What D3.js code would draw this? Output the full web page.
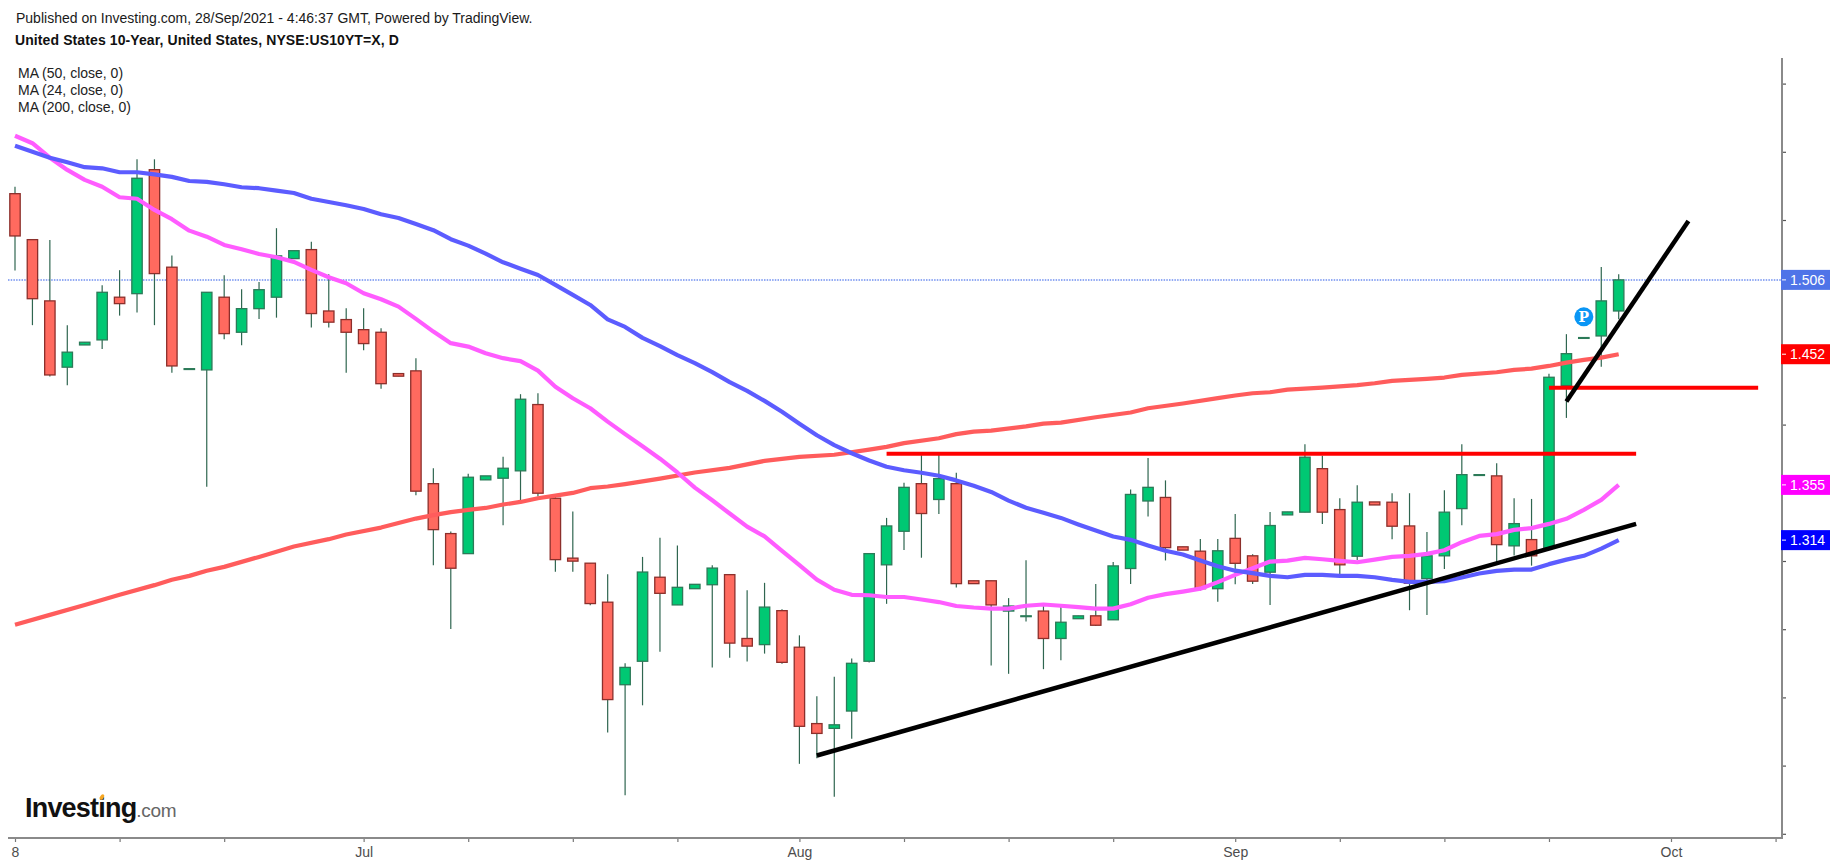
<!DOCTYPE html>
<html>
<head>
<meta charset="utf-8">
<script src="https://cdnjs.cloudflare.com/ajax/libs/d3/7.8.5/d3.min.js"></script>
<style>
    html, body { margin: 0; padding: 0; background: #fff; }
    svg { display: block; }
    text { font-family: "Liberation Sans", Arial, sans-serif; }
</style>
</head>
<body>
<div id="chart"></div>
<script>
// daily candles, 8 Jun to 27 Sep 2021, includes the Sunday sessions
let opens = [1.5693,1.5356,1.4907,1.4421,1.4584,1.4621,1.4934,1.4960,1.5869,1.5154,
    1.4410,1.4401,1.4934,1.4677,1.4850,1.4934,1.5217,1.5283,1.4833,1.4770,
    1.4696,1.4677,1.4374,1.4394,1.3567,1.3201,1.3054,1.3595,1.3607,1.3661,
    1.4147,1.3460,1.3021,1.2984,1.2698,1.2093,1.2265,1.2881,1.2678,1.2797,
    1.2826,1.2900,1.2432,1.2387,1.2636,1.2368,1.1808,1.1773,1.1900,1.2265,
    1.2972,1.3218,1.3567,1.3451,1.3567,1.2855,1.2855,1.2633,1.2598,1.2633,
    1.2432,1.2577,1.2598,1.2569,1.2945,1.3440,1.3466,1.3104,1.3072,1.2797,
    1.3166,1.3038,1.2918,1.3338,1.3358,1.3677,1.3377,1.3035,1.3433,1.3431,
    1.3257,1.2871,1.3038,1.3384,1.3633,1.3624,1.3111,1.3157,1.3094,1.4286,
    1.4638,1.4650,1.4833];
let closes = [1.5383,1.4923,1.4364,1.4531,1.4604,1.4970,1.4887,1.5806,1.5107,1.4430,
    1.4410,1.4970,1.4667,1.4850,1.4989,1.5237,1.5275,1.4814,1.4751,1.4677,
    1.4594,1.4300,1.4355,1.3512,1.3230,1.2947,1.3614,1.3624,1.3680,1.4186,
    1.3497,1.3010,1.2999,1.2688,1.1984,1.2220,1.2919,1.2763,1.2807,1.2829,
    1.2948,1.2398,1.2376,1.2662,1.2257,1.1788,1.1736,1.1799,1.2250,1.3054,
    1.3257,1.3540,1.3348,1.3604,1.2834,1.2834,1.2678,1.2670,1.2598,1.2432,
    1.2551,1.2598,1.2529,1.2964,1.3488,1.3540,1.3098,1.3080,1.2797,1.3075,
    1.2983,1.2852,1.3260,1.3360,1.3761,1.3358,1.2972,1.3431,1.3411,1.3255,
    1.2837,1.3038,1.3358,1.3633,1.3633,1.3120,1.3274,1.3038,1.4347,1.4520,
    1.4638,1.4907,1.5061];
let highs = [1.5744,1.5356,1.5354,1.4729,1.4604,1.5022,1.5132,1.5945,1.5945,1.5239,
    1.4410,1.4973,1.5095,1.4992,1.5046,1.5440,1.5275,1.5341,1.5102,1.4853,
    1.4853,1.4707,1.4374,1.4487,1.3680,1.3216,1.3639,1.3624,1.3765,1.4223,
    1.4230,1.3490,1.3362,1.2984,1.2903,1.2250,1.3030,1.3170,1.3114,1.2829,
    1.2969,1.2900,1.2786,1.2840,1.2646,1.2455,1.2008,1.2151,1.2286,1.3054,
    1.3316,1.3573,1.3776,1.3793,1.3647,1.2855,1.2855,1.2728,1.3006,1.2670,
    1.2670,1.2598,1.2832,1.2993,1.3525,1.3755,1.3591,1.3104,1.3162,1.3162,
    1.3345,1.3050,1.3360,1.3360,1.3856,1.3771,1.3460,1.3556,1.3433,1.3497,
    1.3497,1.3213,1.3519,1.3856,1.3633,1.3717,1.3460,1.3455,1.4372,1.4663,
    1.4638,1.5156,1.5102];
let lows = [1.5129,1.4729,1.4352,1.4289,1.4584,1.4555,1.4799,1.4821,1.4729,1.4381,
    1.4410,1.3545,1.4626,1.4582,1.4775,1.4784,1.5217,1.4711,1.4711,1.4381,
    1.4545,1.4262,1.4355,1.3482,1.2969,1.2502,1.3054,1.3595,1.3263,1.3436,
    1.3472,1.2922,1.2922,1.2676,1.1742,1.1283,1.1942,1.2334,1.2678,1.2797,
    1.2220,1.2291,1.2263,1.2321,1.2247,1.1513,1.1553,1.1272,1.1696,1.2255,
    1.2686,1.3080,1.3024,1.3345,1.2805,1.2834,1.2233,1.2173,1.2556,1.2207,
    1.2273,1.2577,1.2524,1.2569,1.2832,1.3326,1.3004,1.3080,1.2784,1.2702,
    1.2830,1.2832,1.2678,1.3338,1.3358,1.3272,1.2881,1.3008,1.3411,1.3160,
    1.2639,1.2605,1.2942,1.3263,1.3633,1.2984,1.3040,1.2966,1.3094,1.4049,
    1.4638,1.4425,1.4772];

let ma50 = [1.6045,1.6001,1.5957,1.5923,1.5887,1.5879,1.5850,1.5850,1.5835,1.5816,
    1.5786,1.5779,1.5762,1.5740,1.5733,1.5715,1.5698,1.5656,1.5632,1.5608,
    1.5581,1.5542,1.5515,1.5471,1.5425,1.5359,1.5312,1.5253,1.5190,1.5143,
    1.5097,1.5024,1.4951,1.4877,1.4772,1.4716,1.4636,1.4575,1.4509,1.4451,
    1.4385,1.4311,1.4247,1.4174,1.4094,1.4007,1.3922,1.3850,1.3790,1.3737,
    1.3691,1.3665,1.3647,1.3625,1.3591,1.3551,1.3506,1.3443,1.3390,1.3353,
    1.3316,1.3268,1.3223,1.3180,1.3155,1.3114,1.3075,1.3048,1.3004,1.2961,
    1.2929,1.2911,1.2891,1.2881,1.2898,1.2898,1.2891,1.2891,1.2881,1.2862,
    1.2847,1.2847,1.2852,1.2879,1.2908,1.2928,1.2937,1.2937,1.2977,1.3010,
    1.3038,1.3091,1.3153];
let ma24 = [1.6118,1.6063,1.5957,1.5867,1.5794,1.5744,1.5667,1.5656,1.5574,1.5506,
    1.5422,1.5378,1.5317,1.5286,1.5251,1.5227,1.5193,1.5134,1.5080,1.5036,
    1.4963,1.4919,1.4865,1.4775,1.4682,1.4597,1.4572,1.4523,1.4487,1.4465,
    1.4396,1.4278,1.4193,1.4120,1.4022,1.3930,1.3842,1.3750,1.3649,1.3538,
    1.3445,1.3348,1.3252,1.3180,1.3075,1.2969,1.2863,1.2789,1.2752,1.2749,
    1.2736,1.2736,1.2718,1.2699,1.2670,1.2659,1.2651,1.2651,1.2672,1.2681,
    1.2672,1.2662,1.2651,1.2651,1.2683,1.2731,1.2757,1.2776,1.2797,1.2845,
    1.2898,1.2947,1.2996,1.3003,1.3023,1.3013,1.3001,1.2991,1.3010,1.3030,
    1.3038,1.3052,1.3079,1.3138,1.3184,1.3197,1.3228,1.3241,1.3272,1.3309,
    1.3375,1.3448,1.3558];
let ma200Bars = [0,2,4,6,8,9,10,11,12,14,16,18,19,21,22,23,24,25,26,27,28,29,30,31,32,33,34,35,
    37,39,41,43,45,47,49,50,51,53,54,55,56,58,59,60,62,64,65,67,69,70,71,72,73,75,77,78,79,81,82,83,85,86,87,88,89,90,91,92];
let ma200 = [1.2532,1.2605,1.2678,1.2752,1.2823,1.2862,1.2891,1.2928,1.2957,1.3030,1.3106,1.3160,1.3194,1.3245,1.3279,1.3311,1.3336,1.3358,1.3375,1.3389,1.3414,1.3433,1.3460,1.3479,1.3499,1.3534,1.3546,1.3564,
    1.3604,1.3649,1.3683,1.3734,1.3763,1.3779,1.3816,1.3837,1.3864,1.3900,1.3930,1.3948,1.3956,1.3987,1.4007,1.4015,1.4054,1.4089,1.4120,1.4155,1.4194,1.4213,1.4230,1.4237,1.4256,1.4271,1.4289,1.4303,1.4320,1.4335,1.4345,1.4364,1.4384,1.4401,1.4410,1.4430,1.4454,1.4474,1.4491,1.4516];

// hand drawn lines on the chart: [bar, value, bar, value]
let supportLine = [46, 1.1574, 93, 1.3272];
let steepLine = [89, 1.4169, 96, 1.5493];
let levelLines = [[50, 93, 1.3786], [88, 100, 1.4271]];

let monthBars = [0, 6, 12, 20, 26, 32, 38, 45, 51, 57, 63, 70, 76, 82, 88, 95, 101];
let monthLabels = {0: "8", 20: "Jul", 45: "Aug", 70: "Sep", 95: "Oct"};
let priceTicks = [1.10, 1.15, 1.20, 1.25, 1.30, 1.35, 1.40, 1.45, 1.50, 1.55, 1.60, 1.65];
let priceTags = [
    {text: "1.506", value: 1.5061, color: "#4f74e8"},
    {text: "1.452", value: 1.4516, color: "#ff0000"},
    {text: "1.355", value: 1.3558, color: "#ff00ff"},
    {text: "1.314", value: 1.3153, color: "#0000ff"}
];
let legendLines = ["MA (50, close, 0)", "MA (24, close, 0)", "MA (200, close, 0)"];

let width = 1837, height = 866;
let svg = d3.select("#chart").append("svg")
    .attr("width", width)
    .attr("height", height);

let x = d3.scaleLinear().domain([0, 92]).range([15, 1618.7]);
let y = d3.scaleLinear().domain([1.10, 1.65]).range([833.8, 83.6]);
let axisX = 1782, axisY = 838;

// axes
let bottom = svg.append("g")
    .attr("transform", "translate(0," + axisY + ")")
    .call(d3.axisBottom(x)
        .tickValues(monthBars)
        .tickSize(4)
        .tickPadding(5)
        .tickFormat(function (d) { return monthLabels[d] || ""; }));
bottom.select(".domain").remove();
bottom.selectAll("line").attr("stroke", "#777").attr("stroke-width", 1.2);
bottom.selectAll("text")
    .attr("fill", "#4d4d4d")
    .attr("font-size", 14)
    .attr("font-family", "Liberation Sans");
svg.append("line")
    .attr("x1", 8).attr("x2", axisX + 1)
    .attr("y1", axisY).attr("y2", axisY)
    .attr("stroke", "#8a8a8a").attr("stroke-width", 2);

let right = svg.append("g")
    .attr("transform", "translate(" + axisX + ",0)")
    .call(d3.axisRight(y)
        .tickValues(priceTicks)
        .tickSize(4)
        .tickFormat(""));
right.select(".domain").remove();
right.selectAll("line").attr("stroke", "#555").attr("stroke-width", 1.2);
svg.append("line")
    .attr("x1", axisX).attr("x2", axisX)
    .attr("y1", 58).attr("y2", axisY + 1)
    .attr("stroke", "#8a8a8a").attr("stroke-width", 2);

// last price line
svg.append("line")
    .attr("x1", 8).attr("x2", axisX)
    .attr("y1", y(1.5061)).attr("y2", y(1.5061))
    .attr("stroke", "#6f8ff0")
    .attr("stroke-width", 1.5)
    .attr("stroke-dasharray", "1.5,1.2");

// candles
let bars = d3.range(opens.length);
let up = function (i) { return closes[i] >= opens[i]; };
let candle = svg.append("g").selectAll("g")
    .data(bars)
    .enter().append("g");

candle.append("line")
    .attr("x1", function (i) { return x(i); })
    .attr("x2", function (i) { return x(i); })
    .attr("y1", function (i) { return y(highs[i]); })
    .attr("y2", function (i) { return y(lows[i]); })
    .attr("stroke", "#2f6650")
    .attr("stroke-width", 1.2);

// a flat candle still has to show up as a dash
candle.append("rect")
    .attr("x", function (i) { return x(i) - 5.2; })
    .attr("width", 10.4)
    .attr("y", function (i) { return y(Math.max(opens[i], closes[i])); })
    .attr("height", function (i) { return Math.max(Math.abs(y(opens[i]) - y(closes[i])), 0.8); })
    .attr("fill", function (i) { return up(i) ? "#00c873" : "#ff6a5f"; })
    .attr("stroke", function (i) { return up(i) ? "#2c7a58" : "#8c2f2b"; })
    .attr("stroke-width", 1.3);

// moving averages
let line = d3.line()
    .x(function (d) { return x(d[0]); })
    .y(function (d) { return y(d[1]); });

let maLines = [
    {points: ma200Bars.map(function (b, i) { return [b, ma200[i]]; }), color: "#ff5c5c"},
    {points: ma24.map(function (v, i) { return [i, v]; }), color: "#ff5cff"},
    {points: ma50.map(function (v, i) { return [i, v]; }), color: "#5c5cff"}
];
svg.append("g").selectAll("path")
    .data(maLines)
    .enter().append("path")
    .attr("d", function (d) { return line(d.points); })
    .attr("fill", "none")
    .attr("stroke", function (d) { return d.color; })
    .attr("stroke-width", 4.2)
    .attr("stroke-linejoin", "round");

// trend lines
svg.append("g").selectAll("line")
    .data(levelLines)
    .enter().append("line")
    .attr("x1", function (d) { return x(d[0]); })
    .attr("x2", function (d) { return x(d[1]); })
    .attr("y1", function (d) { return y(d[2]); })
    .attr("y2", function (d) { return y(d[2]); })
    .attr("stroke", "#ff0000")
    .attr("stroke-width", 4);

svg.append("g").selectAll("line")
    .data([supportLine, steepLine])
    .enter().append("line")
    .attr("x1", function (d) { return x(d[0]); })
    .attr("y1", function (d) { return y(d[1]); })
    .attr("x2", function (d) { return x(d[2]); })
    .attr("y2", function (d) { return y(d[3]); })
    .attr("stroke", "#000")
    .attr("stroke-width", 4.5);

// P marker
let marker = svg.append("g")
    .attr("transform", "translate(" + x(90) + "," + y(1.479) + ")");
marker.append("circle").attr("r", 9.5).attr("fill", "#0a96f5");
marker.append("text")
    .attr("text-anchor", "middle")
    .attr("dy", "0.36em")
    .attr("font-size", 14)
    .attr("font-weight", "bold")
    .style("font-family", "'DejaVu Serif'")
    .attr("fill", "#fff")
    .text("P");

// price tags
let tag = svg.append("g").selectAll("g")
    .data(priceTags)
    .enter().append("g")
    .attr("transform", function (d) { return "translate(" + axisX + "," + y(d.value) + ")"; });
tag.append("rect")
    .attr("x", -1).attr("y", -10)
    .attr("width", 49).attr("height", 20)
    .attr("fill", function (d) { return d.color; });
tag.append("line")
    .attr("x1", 0).attr("x2", 4)
    .attr("stroke", "#fff").attr("stroke-width", 1);
tag.append("text")
    .attr("x", 8)
    .attr("dy", "0.36em")
    .attr("font-size", 14)
    .attr("fill", "#fff")
    .text(function (d) { return d.text; });

// header text
svg.append("text")
    .attr("x", 16).attr("y", 22.5)
    .attr("font-size", 14)
    .attr("fill", "#1a1a1a")
    .text("Published on Investing.com, 28/Sep/2021 - 4:46:37 GMT, Powered by TradingView.");
svg.append("text")
    .attr("x", 15).attr("y", 45)
    .attr("font-size", 14)
    .attr("font-weight", "bold")
    .attr("letter-spacing", 0.1)
    .attr("fill", "#111")
    .text("United States 10-Year, United States, NYSE:US10YT=X, D");
svg.append("g").selectAll("text")
    .data(legendLines)
    .enter().append("text")
    .attr("x", 18)
    .attr("y", function (d, i) { return 78 + i * 17; })
    .attr("font-size", 14)
    .attr("fill", "#222")
    .text(function (d) { return d; });

// logo
let logo = svg.append("text").attr("x", 25).attr("y", 817);
logo.append("tspan")
    .attr("font-size", 27)
    .attr("font-weight", "bold")
    .attr("letter-spacing", -0.8)
    .attr("fill", "#111")
    .text("Investing");
logo.append("tspan")
    .attr("font-size", 19)
    .attr("letter-spacing", -0.3)
    .attr("fill", "#666")
    .text(".com");
svg.append("ellipse")
    .attr("cx", 102).attr("cy", 797)
    .attr("rx", 1.8).attr("ry", 3)
    .attr("transform", "rotate(30 102 797)")
    .attr("fill", "#f5a623");
</script>
</body>
</html>
